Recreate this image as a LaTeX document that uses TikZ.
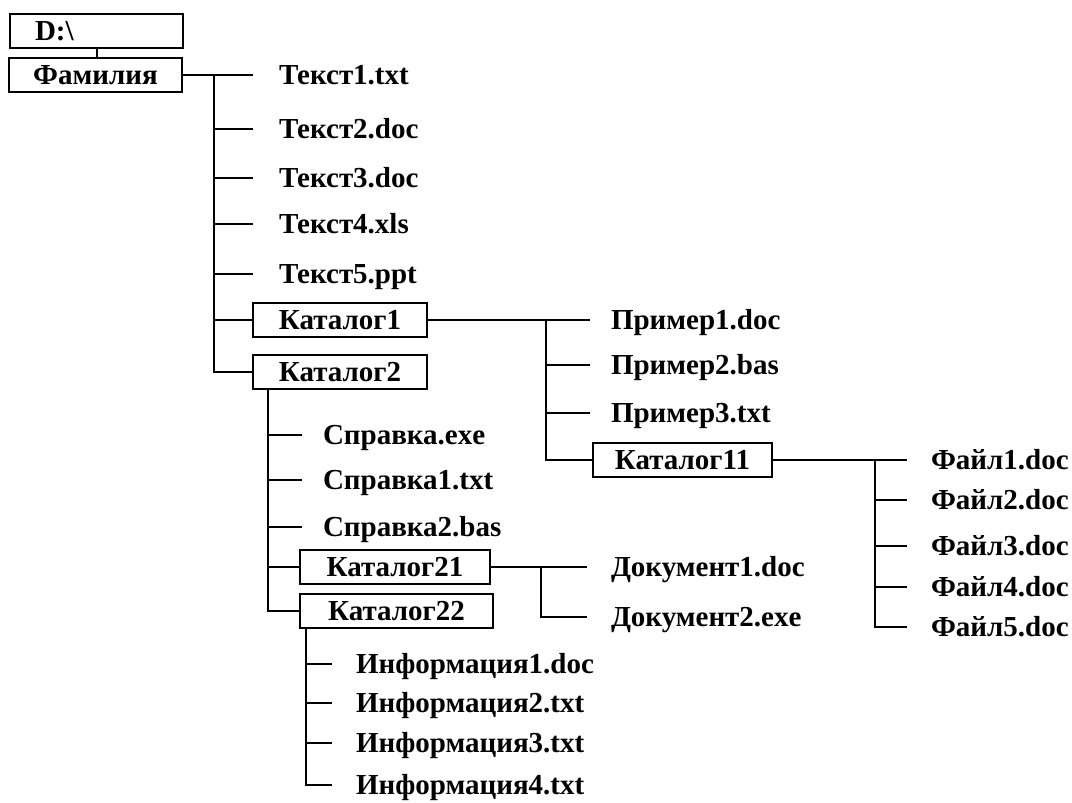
\documentclass[tikz,border=0pt]{standalone}
\usepackage{fontspec}
\setmainfont{Liberation Serif}
\usetikzlibrary{positioning}
\begin{document}
\begin{tikzpicture}[x=0.5pt,y=-0.5pt,line width=1pt,
	every node/.style={font=\fontsize{14.5}{16}\selectfont\bfseries, inner sep=0pt},
	file/.style={anchor=west, text height=9.5pt, text depth=0pt},
	dir/.style={draw, minimum height=17pt, text height=9.5pt, text depth=0pt}]
	\useasboundingbox (0,0) rectangle (1072,803);
	% disk and root folder
	\node[dir, minimum width=86.5pt, text width=61.5pt, align=left] (disk) at (96.5,31) {D:\textbackslash};
	\node[dir, minimum width=86.5pt] (fam) at (95.5,75) {Фамилия};
	\draw (disk.south) -- (disk.south |- fam.north);
	% files in the root folder
	\node[file] (t1) at (278,75) {Текст1.txt};
	\node[file] (t2) at (278,129) {Текст2.doc};
	\node[file] (t3) at (278,178) {Текст3.doc};
	\node[file] (t4) at (278,224) {Текст4.xls};
	\node[file] (t5) at (278,274) {Текст5.ppt};
	\node[dir, minimum width=87pt] (k1) at (340,320) {Каталог1};
	\node[dir, minimum width=87pt] (k2) at (340,371.5) {Каталог2};
	\coordinate (famj) at ([xshift=15.5pt]fam.east);
	\draw (fam.east) -- ([xshift=-12.5pt]t1.west);
	\draw (famj) |- (k2.west);
	\foreach \n in {t2,t3,t4,t5}
		\draw (famj |- \n.west) -- ([xshift=-12.5pt]\n.west);
	\draw (famj |- k1.west) -- (k1.west);
	% Каталог1
	\node[file] (p1) at (610,320) {Пример1.doc};
	\node[file] (p2) at (610,365) {Пример2.bas};
	\node[file] (p3) at (610,413) {Пример3.txt};
	\node[dir, minimum width=89.5pt] (k11) at (682.5,460) {Каталог11};
	\coordinate (k1j) at ([xshift=59pt]k1.east);
	\draw (k1.east) -- ([xshift=-10pt]p1.west);
	\draw (k1j) |- (k11.west);
	\foreach \n in {p2,p3}
		\draw (k1j |- \n.west) -- ([xshift=-10pt]\n.west);
	% Каталог11
	\node[file] (f1) at (930,460) {Файл1.doc};
	\node[file] (f2) at (930,500) {Файл2.doc};
	\node[file] (f3) at (930,546) {Файл3.doc};
	\node[file] (f4) at (930,587) {Файл4.doc};
	\node[file] (f5) at (930,627) {Файл5.doc};
	\coordinate (k11j) at ([xshift=51pt]k11.east);
	\draw (k11.east) -- ([xshift=-11.5pt]f1.west);
	\draw (k11j) |- ([xshift=-11.5pt]f5.west);
	\foreach \n in {f2,f3,f4}
		\draw (k11j |- \n.west) -- ([xshift=-11.5pt]\n.west);
	% Каталог2
	\node[file] (s1) at (322,435) {Справка.exe};
	\node[file] (s2) at (322,480) {Справка1.txt};
	\node[file] (s3) at (322,527) {Справка2.bas};
	\node[dir, minimum width=95pt] (k21) at (395,567) {Каталог21};
	\node[dir, minimum width=96.5pt] (k22) at (396.5,610.5) {Каталог22};
	\coordinate (k2j) at ([xshift=-36pt]k2.south);
	\draw (k2j) |- (k22.west);
	\foreach \n in {s1,s2,s3}
		\draw (k2j |- \n.west) -- ([xshift=-10pt]\n.west);
	\draw (k2j |- k21.west) -- (k21.west);
	% Каталог21
	\node[file] (d1) at (610,567) {Документ1.doc};
	\node[file] (d2) at (610,617) {Документ2.exe};
	\coordinate (k21j) at ([xshift=25pt]k21.east);
	\draw (k21.east) -- ([xshift=-11.5pt]d1.west);
	\draw (k21j) |- ([xshift=-11.5pt]d2.west);
	% Каталог22
	\node[file] (i1) at (355,664) {Информация1.doc};
	\node[file] (i2) at (355,703) {Информация2.txt};
	\node[file] (i3) at (355,743) {Информация3.txt};
	\node[file] (i4) at (355,785) {Информация4.txt};
	\coordinate (k22j) at ([xshift=-45.5pt]k22.south);
	\draw (k22j) |- ([xshift=-11.5pt]i4.west);
	\foreach \n in {i1,i2,i3}
		\draw (k22j |- \n.west) -- ([xshift=-11.5pt]\n.west);
\end{tikzpicture}
\end{document}
